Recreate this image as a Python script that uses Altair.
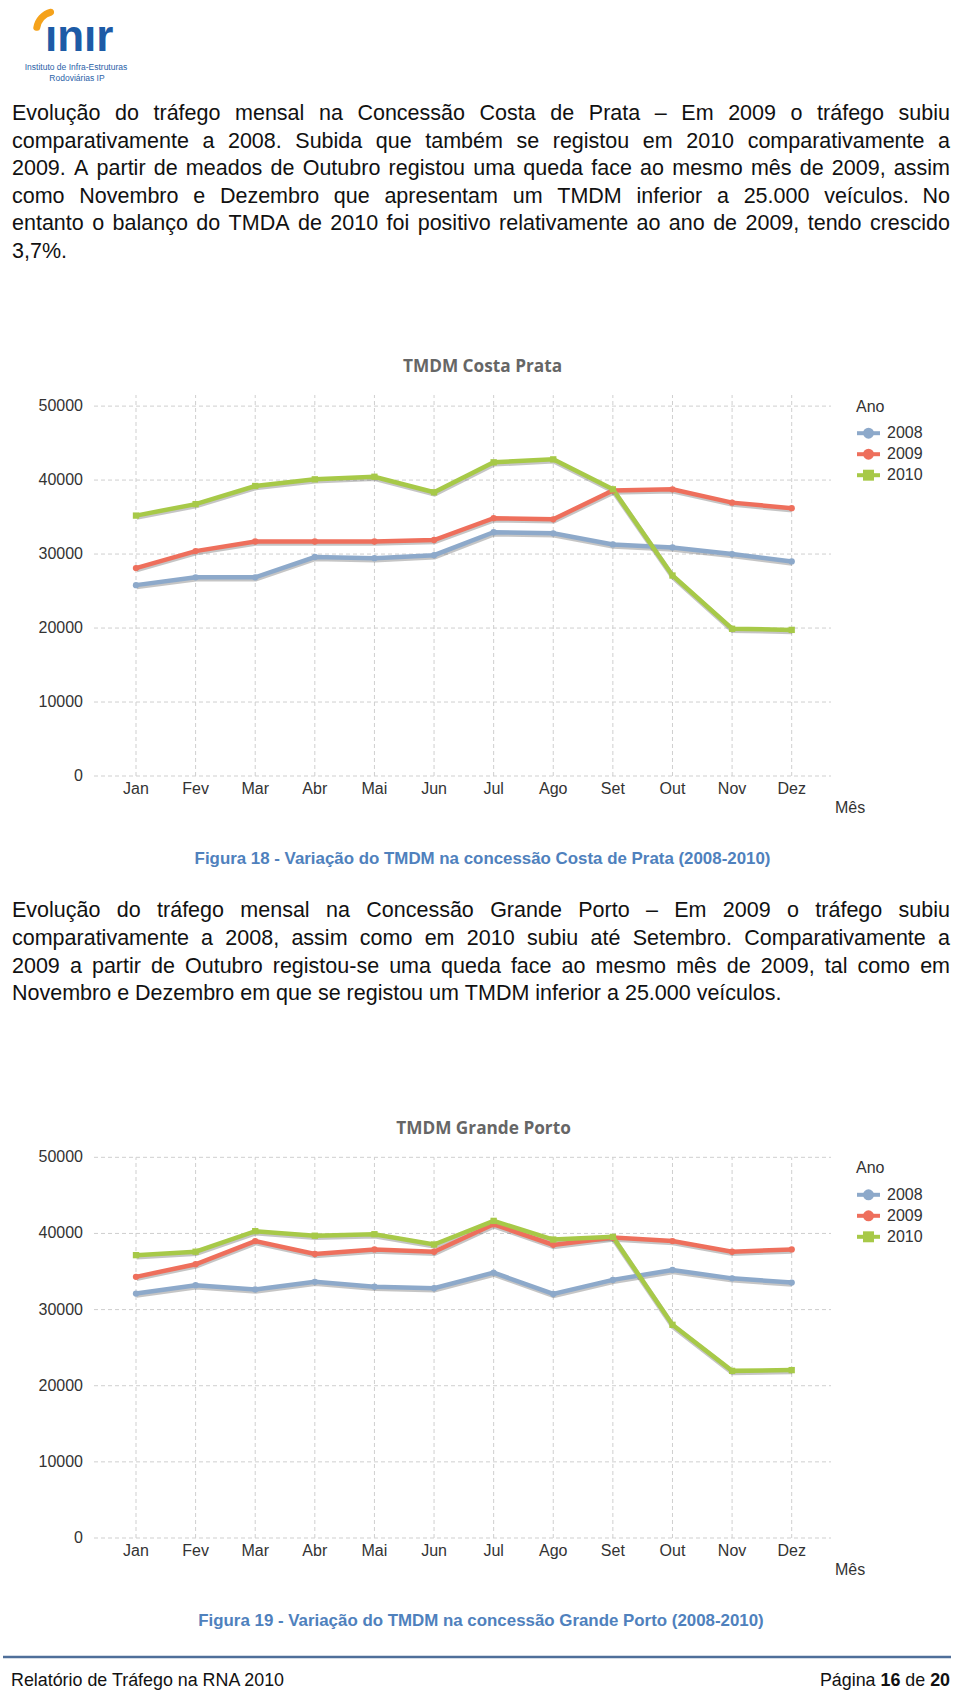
import altair as alt
import pandas as pd
import unicodedata

# ---------------- data ----------------
months = ["Jan", "Fev", "Mar", "Abr", "Mai", "Jun", "Jul", "Ago", "Set", "Out", "Nov", "Dez"]
years = ["2008", "2009", "2010"]
y_ticks = [0, 10000, 20000, 30000, 40000, 50000]

cp_2008 = [25800, 26850, 26850, 29600, 29450, 29850, 32950, 32800, 31300, 30900, 30000, 29000]
cp_2009 = [28100, 30400, 31700, 31700, 31700, 31900, 34850, 34700, 38600, 38750, 36950, 36200]
cp_2010 = [35200, 36750, 39200, 40100, 40450, 38350, 42400, 42800, 38750, 27100, 19900, 19750]

gp_2008 = [32100, 33200, 32650, 33650, 33000, 32800, 34850, 32050, 33900, 35200, 34100, 33550]
gp_2009 = [34300, 35950, 39000, 37300, 37900, 37600, 41200, 38500, 39450, 39000, 37600, 37900]
gp_2010 = [37150, 37600, 40300, 39700, 39900, 38550, 41650, 39200, 39550, 28000, 21950, 22050]

para1 = [
    "Evolução do tráfego mensal na Concessão Costa de Prata – Em 2009 o tráfego subiu",
    "comparativamente a 2008. Subida que também se registou em 2010 comparativamente a",
    "2009. A partir de meados de Outubro registou uma queda face ao mesmo mês de 2009, assim",
    "como Novembro e Dezembro que apresentam um TMDM inferior a 25.000 veículos. No",
    "entanto o balanço do TMDA de 2010 foi positivo relativamente ao ano de 2009, tendo crescido",
    "3,7%.",
]
para2 = [
    "Evolução do tráfego mensal na Concessão Grande Porto – Em 2009 o tráfego subiu",
    "comparativamente a 2008, assim como em 2010 subiu até Setembro. Comparativamente a",
    "2009 a partir de Outubro registou-se uma queda face ao mesmo mês de 2009, tal como em",
    "Novembro e Dezembro em que se registou um TMDM inferior a 25.000 veículos.",
]
caption18 = "Figura 18 - Variação do TMDM na concessão Costa de Prata (2008-2010)"
caption19 = "Figura 19 - Variação do TMDM na concessão Grande Porto (2008-2010)"
title1 = "TMDM Costa Prata"
title2 = "TMDM Grande Porto"
footer_left = "Relatório de Tráfego na RNA 2010"
footer_right = [("Página", False), ("16", True), ("de", False), ("20", True)]
logo_word = "ınır"
logo_sub = ["Instituto de Infra-Estruturas", "Rodoviárias IP"]
legend_title = "Ano"
x_title = "Mês"

# ---------------- styles ----------------
TXT_FONT = "Liberation Sans"
AX_FONT = "Liberation Sans"
COLORS = ["#8DA9CA", "#EE6F5C", "#A7C948"]
SHAPES = ["circle", "circle", "square"]
cscale = alt.Scale(domain=years, range=COLORS)
sscale = alt.Scale(domain=years, range=SHAPES)

# Arial / Liberation Sans advance widths (1/1000 em), for text layout
REG = dict(zip("abcdefghijklmnopqrstuvwxyz",
               [556, 556, 500, 556, 556, 278, 556, 556, 222, 222, 500, 222, 833, 556, 556, 556, 556, 333,
                500, 278, 556, 500, 722, 500, 500, 500]))
REG.update(zip("ABCDEFGHIJKLMNOPQRSTUVWXYZ",
               [667, 667, 722, 722, 667, 611, 778, 722, 278, 500, 667, 556, 833, 722, 778, 667, 778, 722,
                667, 611, 722, 667, 944, 667, 667, 611]))
BOLD = dict(zip("abcdefghijklmnopqrstuvwxyz",
                [556, 611, 556, 611, 556, 333, 611, 611, 278, 278, 556, 278, 889, 611, 611, 611, 611, 389,
                 556, 333, 611, 556, 778, 556, 556, 500]))
BOLD.update(zip("ABCDEFGHIJKLMNOPQRSTUVWXYZ",
                [722, 722, 722, 722, 667, 611, 778, 722, 278, 556, 722, 611, 833, 722, 778, 667, 778, 722,
                 667, 611, 722, 667, 944, 667, 667, 611]))
PUNCT = {" ": 278, ".": 278, ",": 278, "-": 333, "–": 556, "%": 889, "(": 333, ")": 333, ":": 278}
for tbl in (REG, BOLD):
    tbl.update({d: 556 for d in "0123456789"})
    tbl.update(PUNCT)


def units(s, bold=False):
    tbl = BOLD if bold else REG
    tot = 0
    for ch in s:
        b = unicodedata.normalize("NFD", ch)[0]
        tot += tbl.get(b, 556)
    return tot


X0, X1 = 12, 950
justified_lines = para1[:5] + para2[:3]
PSIZE = min((X1 - X0) * 1000 / units(l) for l in justified_lines)
PSIZE = min(PSIZE, 21.5)


def layout_para(lines, y0, dy, njust):
    left, right = [], []
    for li, line in enumerate(lines):
        y = y0 + li * dy
        words = line.split(" ")
        ws = [units(w) * PSIZE / 1000 for w in words]
        just = li < njust and len(words) > 1
        gap = (X1 - X0 - sum(ws)) / (len(words) - 1) if just else units(" ") * PSIZE / 1000
        x = X0
        for i, w in enumerate(words):
            if just and i == len(words) - 1:
                right.append({"x": X1, "y": y, "t": w})
            else:
                left.append({"x": x, "y": y, "t": w})
            x += ws[i] + gap
    return left, right


l1, r1 = layout_para(para1, 120, 27.6, 5)
l2, r2 = layout_para(para2, 917.3, 27.6, 3)
para_left = pd.DataFrame(l1 + l2)
para_right = pd.DataFrame(r1 + r2)


def pix_text(df, **kw):
    return alt.Chart(df).mark_text(**kw).encode(
        x=alt.X("x:Q", scale=None, axis=None),
        y=alt.Y("y:Q", scale=None, axis=None),
        text="t:N",
    )


layers = []
layers.append(pix_text(para_left, align="left", baseline="alphabetic", font=TXT_FONT,
                       fontSize=PSIZE, color="#111111"))
layers.append(pix_text(para_right, align="right", baseline="alphabetic", font=TXT_FONT,
                       fontSize=PSIZE, color="#111111"))

# captions
CSIZE = 577 * 1000 / units(caption18, True)
caps = pd.DataFrame([{"x": 482.5, "y": 864, "t": caption18}, {"x": 481, "y": 1626, "t": caption19}])
layers.append(pix_text(caps, align="center", baseline="alphabetic", font=TXT_FONT, fontWeight="bold",
                       fontSize=CSIZE, color="#4F81BD"))

# chart titles
TSIZE = 157 * 1000 / units(title1, True)
titles = pd.DataFrame([{"x": 482.5, "y": 372, "t": title1}, {"x": 483.5, "y": 1134, "t": title2}])
layers.append(pix_text(titles, align="center", baseline="alphabetic", font="Open Sans", fontWeight="bold",
                       fontSize=TSIZE * 0.97, color="#666666"))

# footer
FSIZE = 275 * 1000 / units(footer_left)
SPACE = units(" ") * FSIZE / 1000
FOOT_Y = 1686
layers.append(alt.Chart(pd.DataFrame({"a": [0]})).mark_rule(color="#4F6F9A", strokeWidth=2.5).encode(
    x=alt.value(3), x2=alt.value(951), y=alt.value(1657)))
layers.append(pix_text(pd.DataFrame([{"x": 11, "y": FOOT_Y, "t": footer_left}]), align="left",
                       baseline="alphabetic", font=TXT_FONT, fontSize=FSIZE, color="#111111"))
xr = 950
reg_parts, bold_parts = [], []
for txt, b in reversed(footer_right):
    (bold_parts if b else reg_parts).append({"x": xr, "y": FOOT_Y, "t": txt})
    xr -= units(txt, b) * FSIZE / 1000 + SPACE
layers.append(pix_text(pd.DataFrame(reg_parts), align="right", baseline="alphabetic", font=TXT_FONT,
                       fontSize=FSIZE, color="#111111"))
layers.append(pix_text(pd.DataFrame(bold_parts), align="right", baseline="alphabetic", font=TXT_FONT,
                       fontWeight="bold", fontSize=FSIZE, color="#111111"))

# logo
layers.append(alt.Chart(pd.DataFrame({"a": [0]})).mark_arc(
    color="#F5A21B", theta=4.72, theta2=6.18, radius=23, radius2=16, cornerRadius=3).encode(
    x=alt.value(56), y=alt.value(31)))
layers.append(pix_text(pd.DataFrame([{"x": 45, "y": 51, "t": logo_word}]), align="left",
                       baseline="alphabetic", font=TXT_FONT, fontWeight="bold", fontSize=44,
                       color="#1D5BA6"))
layers.append(pix_text(pd.DataFrame([{"x": 76, "y": 70, "t": logo_sub[0]}, {"x": 77, "y": 81, "t": logo_sub[1]}]),
                       align="center", baseline="alphabetic", font=TXT_FONT, fontSize=8.5,
                       color="#2A62A8"))


# ---------------- line chart panels ----------------
def panel(vals, y_top_val, y_bottom_px, y_top_px, lab_y, legend_y, mes_y):
    xs = alt.Scale(domain=[0, 11], range=[136, 791.7], nice=False, zero=False)
    ys = alt.Scale(domain=[0, y_top_val], range=[y_bottom_px, y_top_px], nice=False, zero=False)
    rows = []
    for yr, series in zip(years, vals):
        for i, v in enumerate(series):
            rows.append({"i": i, "m": months[i], "year": yr, "v": v})
    df = pd.DataFrame(rows)
    X = alt.X("i:Q", scale=xs, axis=None)
    Y = alt.Y("v:Q", scale=ys, axis=None)
    out = []
    out.append(alt.Chart(pd.DataFrame({"v": y_ticks})).mark_rule(
        color="#CFCFCF", strokeDash=[4, 3], strokeWidth=1).encode(
        y=alt.Y("v:Q", scale=ys, axis=None), x=alt.value(94), x2=alt.value(831)))
    out.append(alt.Chart(pd.DataFrame({"i": list(range(12)), "lo": [0] * 12, "hi": [y_top_val] * 12})).mark_rule(
        color="#CFCFCF", strokeDash=[4, 3], strokeWidth=1).encode(
        x=X, y=alt.Y("lo:Q", scale=ys, axis=None), y2="hi:Q"))
    out.append(alt.Chart(df).mark_line(strokeWidth=5.5, color="#404040", opacity=0.3, yOffset=1.5,
                                       xOffset=0.5).encode(x=X, y=Y, detail="year:N"))
    out.append(alt.Chart(df).mark_line(strokeWidth=4.5).encode(
        x=X, y=Y, color=alt.Color("year:N", scale=cscale, legend=None)))
    out.append(alt.Chart(df).mark_point(filled=True, size=40, opacity=1).encode(
        x=X, y=Y, color=alt.Color("year:N", scale=cscale, legend=None),
        shape=alt.Shape("year:N", scale=sscale, legend=None)))
    out.append(alt.Chart(pd.DataFrame({"v": y_ticks, "t": [str(v) for v in y_ticks]})).mark_text(
        align="right", baseline="middle", font=AX_FONT, fontSize=16, color="#333333").encode(
        y=alt.Y("v:Q", scale=ys, axis=None), x=alt.value(83), text="t:N"))
    out.append(alt.Chart(pd.DataFrame({"i": list(range(12)), "m": months})).mark_text(
        align="center", baseline="alphabetic", font=AX_FONT, fontSize=16, color="#333333").encode(
        x=X, y=alt.value(lab_y), text="m:N"))
    # axis title + legend
    out.append(pix_text(pd.DataFrame([{"x": 835, "y": mes_y, "t": x_title},
                                      {"x": 856, "y": legend_y, "t": legend_title}]),
                        align="left", baseline="alphabetic", font=AX_FONT, fontSize=16, color="#333333"))
    leg = pd.DataFrame([{"year": yr, "x": 857, "x2": 880, "xm": 868.5, "y": legend_y + 21.5 + k * 21,
                         "lx": 887, "t": yr} for k, yr in enumerate(years)])
    out.append(alt.Chart(leg).mark_rule(strokeWidth=4).encode(
        x=alt.X("x:Q", scale=None, axis=None), x2="x2:Q", y=alt.Y("y:Q", scale=None, axis=None),
        color=alt.Color("year:N", scale=cscale, legend=None)))
    out.append(alt.Chart(leg).mark_point(filled=True, size=120, opacity=1).encode(
        x=alt.X("xm:Q", scale=None, axis=None), y=alt.Y("y:Q", scale=None, axis=None),
        color=alt.Color("year:N", scale=cscale, legend=None),
        shape=alt.Shape("year:N", scale=sscale, legend=None)))
    out.append(alt.Chart(leg).mark_text(align="left", baseline="middle", font=AX_FONT, fontSize=16,
                                        color="#333333").encode(
        x=alt.X("lx:Q", scale=None, axis=None), y=alt.Y("y:Q", scale=None, axis=None), text="t:N"))
    return out


layers += panel([cp_2008, cp_2009, cp_2010], 51500, 776, 395, 794, 411.7, 813)
layers += panel([gp_2008, gp_2009, gp_2010], 50000, 1538, 1157.3, 1555.7, 1173.3, 1575)

chart = alt.layer(*layers).resolve_scale(x="independent", y="independent").properties(
    width=960, height=1694, padding=0, autosize=alt.AutoSizeParams(type="none"),
    background="white").configure_view(stroke=None)

chart.save("out.html", embed_options={"renderer": "svg", "actions": False})
